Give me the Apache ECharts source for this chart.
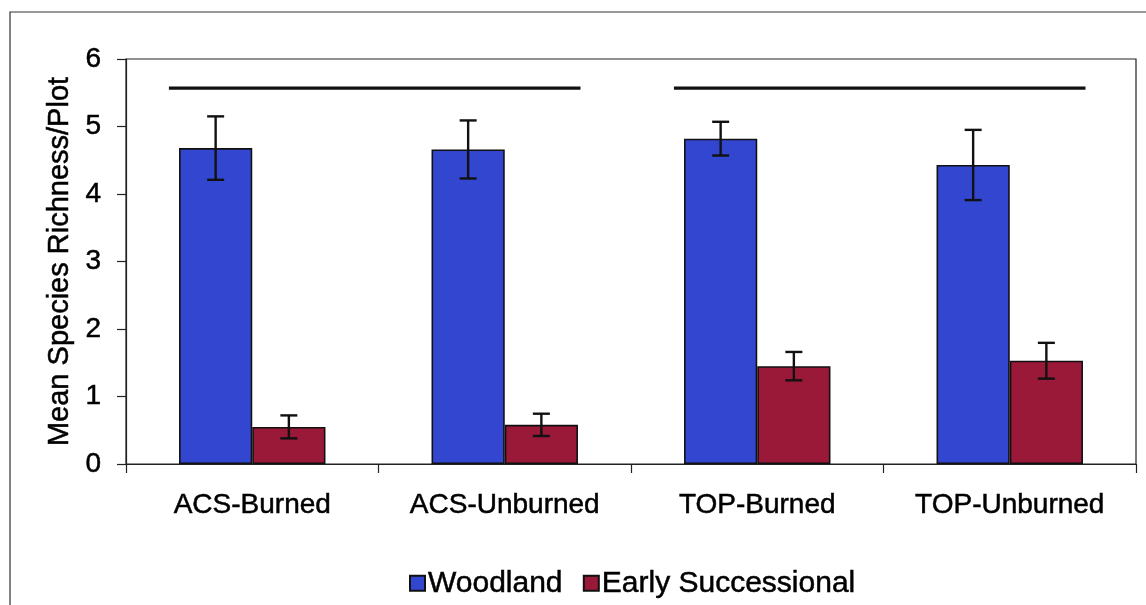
<!DOCTYPE html>
<html>
<head>
<meta charset="utf-8">
<script src="https://cdn.jsdelivr.net/npm/echarts@6/dist/echarts.min.js"></script>
<style>
html,body{margin:0;padding:0;background:#fff;}
#chart{width:1146px;height:605px;}
</style>
</head>
<body>
<div id="chart"></div>
<script>
const categories = ['ACS-Burned', 'ACS-Unburned', 'TOP-Burned', 'TOP-Unburned'];
const woodland = [4.68, 4.66, 4.82, 4.43];
const woodlandErr = [0.47, 0.43, 0.25, 0.52];
const early = [0.55, 0.58, 1.45, 1.53];
const earlyErr = [0.17, 0.165, 0.21, 0.265];
const groupLines = [[0, 1, 5.57], [2, 3, 5.57]];
const seriesNames = ['Woodland', 'Early Successional'];
const yMin = 0, yMax = 6, yStep = 1;

const FONT = 'Liberation Sans, Arial, sans-serif';
const barGapFrac = 0.42;
const halfBar = (1 - barGapFrac) / 4;
const thick = { textBorderColor: '#000', textBorderWidth: 0.5 };

function errRender(offset) {
  return function (params, api) {
    const i = api.value(0), v = api.value(1), e = api.value(2);
    const band = api.size([1, 0])[0];
    const top = api.coord([i, v + e]);
    const bot = api.coord([i, v - e]);
    const x = top[0] + offset * band;
    const cap = 8.5;
    const style = { stroke: '#111', lineWidth: 2.4 };
    return {
      type: 'group',
      children: [
        { type: 'line', shape: { x1: x, y1: top[1], x2: x, y2: bot[1] }, style },
        { type: 'line', shape: { x1: x - cap, y1: top[1], x2: x + cap, y2: top[1] }, style },
        { type: 'line', shape: { x1: x - cap, y1: bot[1], x2: x + cap, y2: bot[1] }, style }
      ]
    };
  };
}

const chart = echarts.init(document.getElementById('chart'), null, { renderer: 'canvas' });
chart.setOption({
  backgroundColor: '#fff',
  animation: false,
  textStyle: { fontFamily: FONT, color: '#000' },
  graphic: [{
    type: 'rect', silent: true, z: -1,
    shape: { x: 10, y: 12, width: 1160, height: 620 },
    style: { fill: 'none', stroke: '#333', lineWidth: 1.2 }
  }],
  grid: { left: 126, top: 59, right: 10, bottom: 141, show: true, borderColor: '#222', borderWidth: 1.2, backgroundColor: 'transparent' },
  legend: {
    data: seriesNames,
    left: 404, top: 563,
    icon: 'rect', itemWidth: 15, itemHeight: 15, itemGap: 20,
    textStyle: Object.assign({ fontFamily: FONT, fontSize: 30, color: '#000', padding: [0, 0, 0, -2] }, thick)
  },
  xAxis: {
    type: 'category',
    data: categories,
    axisLine: { lineStyle: { color: '#222', width: 1.2 } },
    axisTick: { show: true, alignWithLabel: false, length: 9, lineStyle: { color: '#222', width: 1.2 } },
    axisLabel: Object.assign({ fontFamily: FONT, fontSize: 28, color: '#000', margin: 27 }, thick),
    splitLine: { show: false }
  },
  yAxis: {
    type: 'value',
    min: yMin, max: yMax, interval: yStep,
    name: 'Mean Species Richness/Plot',
    nameLocation: 'middle', nameGap: 52,
    nameTextStyle: Object.assign({ fontFamily: FONT, fontSize: 29, color: '#000' }, thick),
    axisLine: { show: true, lineStyle: { color: '#222', width: 1.2 } },
    axisTick: { show: true, inside: false, length: 9, lineStyle: { color: '#222', width: 1.2 } },
    axisLabel: Object.assign({ fontFamily: FONT, fontSize: 28, color: '#000', margin: 25 }, thick),
    splitLine: { show: false }
  },
  series: [
    {
      name: seriesNames[0], type: 'bar', data: woodland,
      barGap: '0%', barCategoryGap: (barGapFrac * 100) + '%',
      itemStyle: { color: '#3346d0', borderColor: '#111', borderWidth: 1.6 }
    },
    {
      name: seriesNames[1], type: 'bar', data: early,
      itemStyle: { color: '#9a1838', borderColor: '#111', borderWidth: 1.6 }
    },
    {
      type: 'custom', name: 'errW', silent: true, z: 5,
      renderItem: errRender(-halfBar),
      encode: { x: 0, y: 1 },
      data: woodland.map((v, i) => [i, v, woodlandErr[i]])
    },
    {
      type: 'custom', name: 'errE', silent: true, z: 5,
      renderItem: errRender(halfBar),
      encode: { x: 0, y: 1 },
      data: early.map((v, i) => [i, v, earlyErr[i]])
    },
    {
      type: 'custom', name: 'groups', silent: true, z: 5,
      encode: { x: [0, 1], y: 2 },
      data: groupLines,
      renderItem: function (params, api) {
        const band = api.size([1, 0])[0];
        const p1 = api.coord([api.value(0), api.value(2)]);
        const p2 = api.coord([api.value(1), api.value(2)]);
        return {
          type: 'line',
          shape: { x1: p1[0] - 0.33 * band, y1: p1[1], x2: p2[0] + 0.30 * band, y2: p2[1] },
          style: { stroke: '#111', lineWidth: 3.2 }
        };
      }
    }
  ]
});
</script>
</body>
</html>
